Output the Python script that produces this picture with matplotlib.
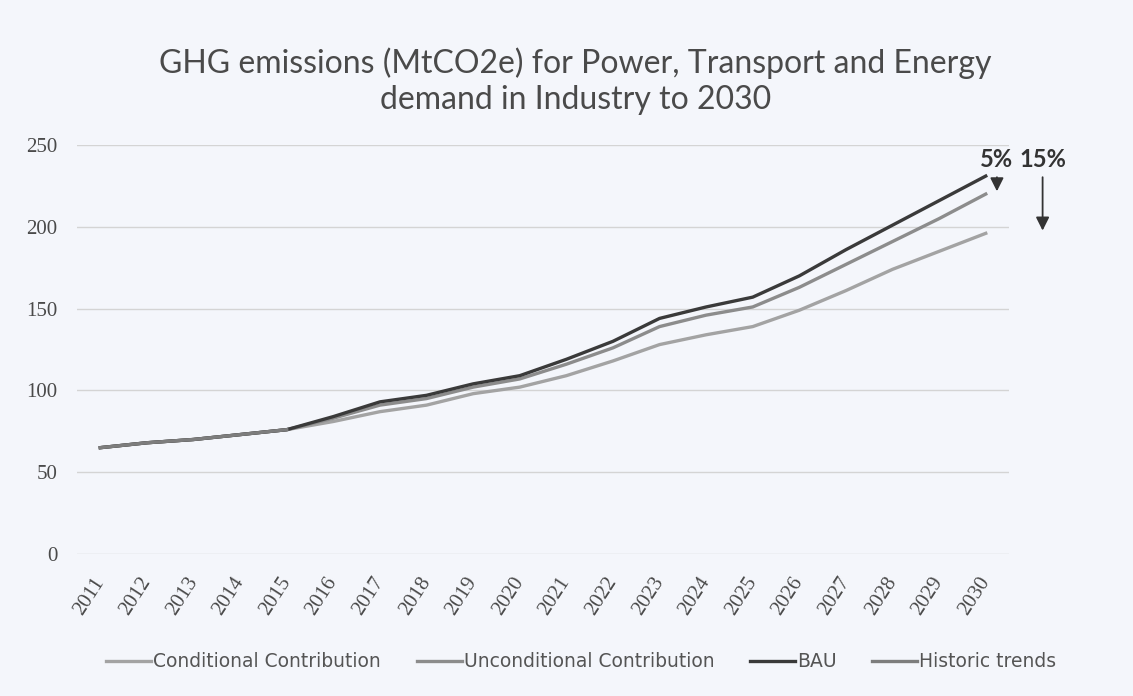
import numpy as np
import matplotlib
matplotlib.use("Agg")
import matplotlib.pyplot as plt

# data
years = [str(y) for y in range(2011, 2031)]
bau = [65, 68, 70, 73, 76, 84, 93, 97, 104, 109, 119, 130, 144, 151, 157, 170, 186, 201, 216, 231]
unconditional = [65, 68, 70, 73, 76, 83, 91, 95, 102, 107, 116, 126, 139, 146, 151, 163, 177, 191, 205, 220]
conditional = [65, 68, 70, 73, 76, 81, 87, 91, 98, 102, 109, 118, 128, 134, 139, 149, 161, 174, 185, 196]
historic = [65, 68, 70, 73, 76]
yticks = [0, 50, 100, 150, 200, 250]
cut_labels = ["5%", "15%"]

bg = "#f4f6fb"
fig = plt.figure(figsize=(11.33, 6.96), dpi=100, facecolor=bg)
ax = fig.add_axes([0.068, 0.204, 0.8226, 0.5877], facecolor=bg)

x = np.arange(len(years))
ax.plot(x, conditional, color="#a3a3a3", lw=2.4, label="Conditional Contribution")
ax.plot(x, unconditional, color="#8c8c8c", lw=2.4, label="Unconditional Contribution")
ax.plot(x, bau, color="#3a3a3a", lw=2.4, label="BAU")
ax.plot(x[:len(historic)], historic, color="#7d7d7d", lw=2.4, label="Historic trends")

ax.set_xlim(-0.5, len(years) - 0.5)
ax.set_ylim(0, 250)
ax.set_yticks(yticks)
ax.yaxis.grid(True, color="#d4d4d4", lw=1)
ax.set_axisbelow(True)
for s in ax.spines.values():
    s.set_visible(False)
ax.tick_params(length=0)
ax.tick_params(axis="y", pad=14)
ax.tick_params(axis="x", pad=18)
ax.set_xticks(x)
ax.set_xticklabels(years, rotation=57, ha="right", rotation_mode="anchor", va="center")
for lab in ax.get_yticklabels() + ax.get_xticklabels():
    lab.set_fontfamily("Liberation Serif")
    lab.set_fontsize(15)
    lab.set_color("#4a4a4a")

fig.text(0.508, 0.883, "GHG emissions (MtCO2e) for Power, Transport and Energy\ndemand in Industry to 2030",
         ha="center", va="center", fontsize=23, family="Lato", color="#4a4a4a", linespacing=1.25)

# reduction arrows at 2030
last = len(years) - 1
for lab, target, dx in [(cut_labels[0], unconditional[-1], 0.24), (cut_labels[1], conditional[-1], 1.22)]:
    ax.annotate("", xy=(last + dx, target), xytext=(last + dx, bau[-1] + 1),
                arrowprops=dict(arrowstyle="-|>", color="#333333", lw=1.3, mutation_scale=20),
                annotation_clip=False)
    ax.text(last + dx, bau[-1] + 3, lab, ha="center", va="bottom", fontsize=17,
            fontweight="bold", family="Lato", color="#333333", clip_on=False)

leg = fig.legend(loc="center", bbox_to_anchor=(0.513, 0.049), ncol=4, frameon=False,
                 handlelength=2.4, handletextpad=0.1, columnspacing=1.9,
                 prop={"family": "DejaVu Sans", "size": 13.5})
for t in leg.get_texts():
    t.set_color("#555555")

fig.savefig("out.png", dpi=100, facecolor=bg)
